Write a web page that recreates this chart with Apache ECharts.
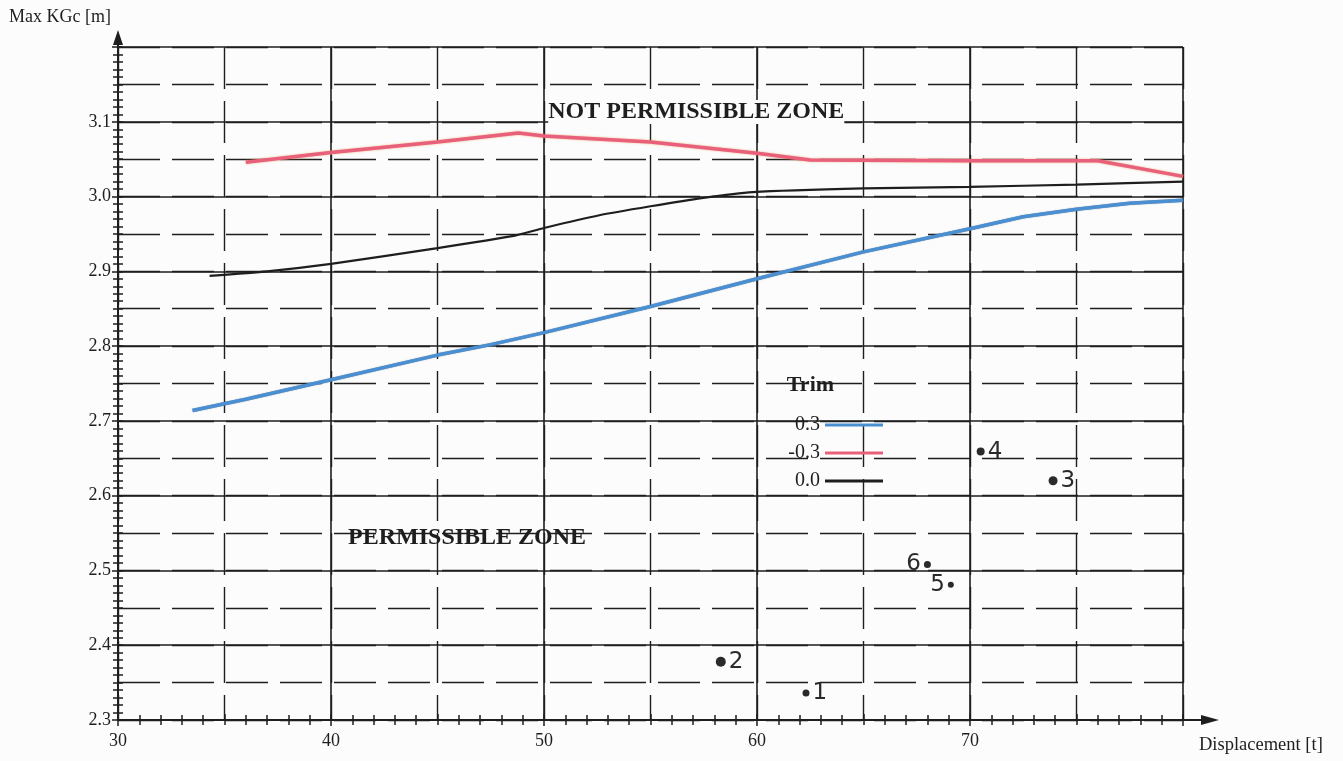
<!DOCTYPE html>
<html>
<head>
<meta charset="utf-8">
<title>Max KGc vs Displacement</title>
<script src="https://cdn.jsdelivr.net/npm/echarts@6/dist/echarts.min.js"></script>
<style>
  html, body { margin: 0; padding: 0; background: #fcfcfc; }
  #chart { width: 1343px; height: 761px; }
</style>
</head>
<body>
<div id="chart"></div>
<script>
// curves, [displacement, max KGc]
const trimPos = [[33.5, 2.714], [36, 2.729], [40, 2.755], [45, 2.788], [47.5, 2.802], [50, 2.818],
  [55, 2.853], [60, 2.890], [65, 2.926], [70, 2.957], [72.5, 2.973], [75, 2.983], [77.5, 2.991], [80, 2.995]]
const trimNeg = [[36, 3.046], [40, 3.059], [45, 3.073], [48.8, 3.085], [50, 3.081], [55, 3.073],
  [60, 3.058], [62.5, 3.049], [70, 3.048], [76, 3.048], [80, 3.027]]
const trimZero = [[34.3, 2.894], [37, 2.900], [40, 2.910], [45, 2.931], [48.5, 2.947], [50, 2.958],
  [52.6, 2.975], [55, 2.987], [57.4, 2.998], [59.8, 3.006], [65, 3.011], [70, 3.013], [75, 3.016], [80, 3.020]]

// hand-marked points
const pointNames = ['1', '2', '3', '4', '5', '6']
const pointX = [62.3, 58.3, 73.9, 70.5, 69.1, 68.0]
const pointY = [2.336, 2.378, 2.620, 2.659, 2.481, 2.508]
const pointSize = [7, 10, 9, 8, 6, 7]

// zone captions
const zoneNames = ['NOT PERMISSIBLE ZONE', 'PERMISSIBLE ZONE']
const zonePos = [[50.2, 3.113], [40.8, 2.544]]

const legendNames = ['0.3', '-0.3', '0.0']

const serif = 'Liberation Serif'
const ink = '#1e1e1e'

const chart = echarts.init(document.getElementById('chart'))

const labelFmt = function (v) { return v.toFixed(1) }

chart.setOption({
  backgroundColor: '#fcfcfc',
  animation: false,
  grid: { left: 118, right: 160, top: 47, bottom: 41 },
  legend: {
    orient: 'vertical',
    right: 455,
    top: 410,
    align: 'right',
    itemWidth: 58,
    itemHeight: 3,
    itemGap: 8,
    icon: 'rect',
    data: legendNames,
    textStyle: { fontFamily: serif, fontSize: 20, color: ink, width: 38, align: 'right' }
  },
  xAxis: [{
    type: 'value',
    min: 30,
    max: 80,
    interval: 10,
    axisLine: { lineStyle: { color: ink, width: 2 } },
    axisTick: { length: 6, lineStyle: { color: ink, width: 1.5 } },
    minorTick: { show: true, splitNumber: 10, length: 5, lineStyle: { color: ink, width: 1.5 } },
    splitLine: { lineStyle: { color: ink, width: 1.6 } },
    axisLabel: {
      margin: 12,
      fontFamily: serif,
      fontSize: 18,
      color: ink,
      showMaxLabel: false
    }
  }, {
    type: 'value',
    min: 30,
    max: 80,
    interval: 5,
    position: 'bottom',
    axisLine: { show: false },
    axisTick: { inside: true, length: 6, lineStyle: { color: ink, width: 1.5 } },
    minorTick: { show: true, splitNumber: 5, length: 5, lineStyle: { color: ink, width: 1.5 } },
    splitLine: { lineStyle: { color: ink, width: 1.4, type: [42, 12] } },
    axisLabel: { show: false }
  }],
  yAxis: [{
    type: 'value',
    min: 2.3,
    max: 3.2,
    interval: 0.1,
    axisLine: { lineStyle: { color: ink, width: 2 } },
    axisTick: { length: 6, lineStyle: { color: ink, width: 1.5 } },
    minorTick: { show: true, splitNumber: 10, length: 5, lineStyle: { color: ink, width: 1.5 } },
    splitLine: { lineStyle: { color: ink, width: 1.6 } },
    axisLabel: {
      margin: 7,
      fontFamily: serif,
      fontSize: 18,
      color: ink,
      showMaxLabel: false,
      formatter: labelFmt
    }
  }, {
    type: 'value',
    min: 2.3,
    max: 3.2,
    interval: 0.05,
    position: 'left',
    axisLine: { show: false },
    axisTick: { inside: true, length: 5, lineStyle: { color: ink, width: 1.5 } },
    minorTick: { show: true, splitNumber: 5, length: 5, lineStyle: { color: ink, width: 1.5 } },
    splitLine: { lineStyle: { color: ink, width: 1.4, type: [42, 12] } },
    axisLabel: { show: false }
  }],
  series: [{
    name: '0.3',
    type: 'line',
    data: trimPos,
    showSymbol: false,
    color: '#4a8fd2',
    lineStyle: { width: 3.5, color: '#4a8fd2', shadowColor: 'rgba(40,60,90,0.6)', shadowBlur: 1 },
    z: 5
  }, {
    name: '-0.3',
    type: 'line',
    data: trimNeg,
    showSymbol: false,
    color: '#e9607c',
    lineStyle: { width: 3.5, color: '#e9607c', shadowColor: 'rgba(230,140,60,0.7)', shadowBlur: 2 },
    z: 5
  }, {
    name: '0.0',
    type: 'line',
    data: trimZero,
    showSymbol: false,
    smooth: 0.2,
    color: '#1e1e1e',
    lineStyle: { width: 2.2, color: '#1e1e1e' },
    z: 5
  }, {
    // measured points
    type: 'scatter',
    data: pointNames.map(function (n, i) {
      return {
        name: n,
        value: [pointX[i], pointY[i]],
        symbolSize: pointSize[i],
        label: { position: i >= 4 ? 'left' : 'right' }
      }
    }),
    itemStyle: { color: '#2a2a2a', opacity: 1 },
    label: {
      show: true,
      formatter: '{b}',
      distance: 3,
      fontFamily: 'DejaVu Sans',
      fontSize: 23,
      color: '#2a2a2a'
    },
    z: 6
  }, {
    // zone captions
    type: 'scatter',
    symbolSize: 0,
    silent: true,
    itemStyle: { opacity: 1 },
    data: zoneNames.map(function (n, i) {
      return {
        name: n,
        value: zonePos[i],
        label: { backgroundColor: i === 0 ? '#fcfcfc' : 'transparent' }
      }
    }),
    label: {
      show: true,
      position: 'right',
      distance: 0,
      formatter: '{b}',
      fontFamily: serif,
      fontWeight: 'bold',
      fontSize: 24,
      color: ink
    },
    z: 4
  }]
})

// axis arrows, axis titles and the legend heading
const o = chart.convertToPixel({ xAxisIndex: 0, yAxisIndex: 0 }, [30, 2.3])
const e = chart.convertToPixel({ xAxisIndex: 0, yAxisIndex: 0 }, [80, 3.2])
const lg = chart.convertToPixel({ xAxisIndex: 0, yAxisIndex: 0 }, [61.4, 2.748])

chart.setOption({
  graphic: [
    { type: 'line', shape: { x1: e[0], y1: o[1], x2: e[0] + 28, y2: o[1] }, style: { stroke: ink, lineWidth: 2 } },
    { type: 'polygon', shape: { points: [[e[0] + 36, o[1]], [e[0] + 18, o[1] - 5], [e[0] + 18, o[1] + 5]] }, style: { fill: ink } },
    { type: 'line', shape: { x1: o[0], y1: e[1], x2: o[0], y2: e[1] - 10 }, style: { stroke: ink, lineWidth: 2 } },
    { type: 'polygon', shape: { points: [[o[0], e[1] - 17], [o[0] - 5, e[1] - 2], [o[0] + 5, e[1] - 2]] }, style: { fill: ink } },
    {
      type: 'text',
      left: 9,
      top: 8,
      style: { text: 'Max KGc [m]', font: '18px "Liberation Serif"', fill: ink }
    },
    {
      type: 'text',
      left: 1199,
      top: 736,
      style: { text: 'Displacement [t]', font: '18.5px "Liberation Serif"', fill: ink }
    },
    {
      type: 'text',
      x: lg[0],
      y: lg[1],
      style: { text: 'Trim', font: 'bold 22px "Liberation Serif"', fill: ink, verticalAlign: 'middle' }
    }
  ]
})
</script>
</body>
</html>
